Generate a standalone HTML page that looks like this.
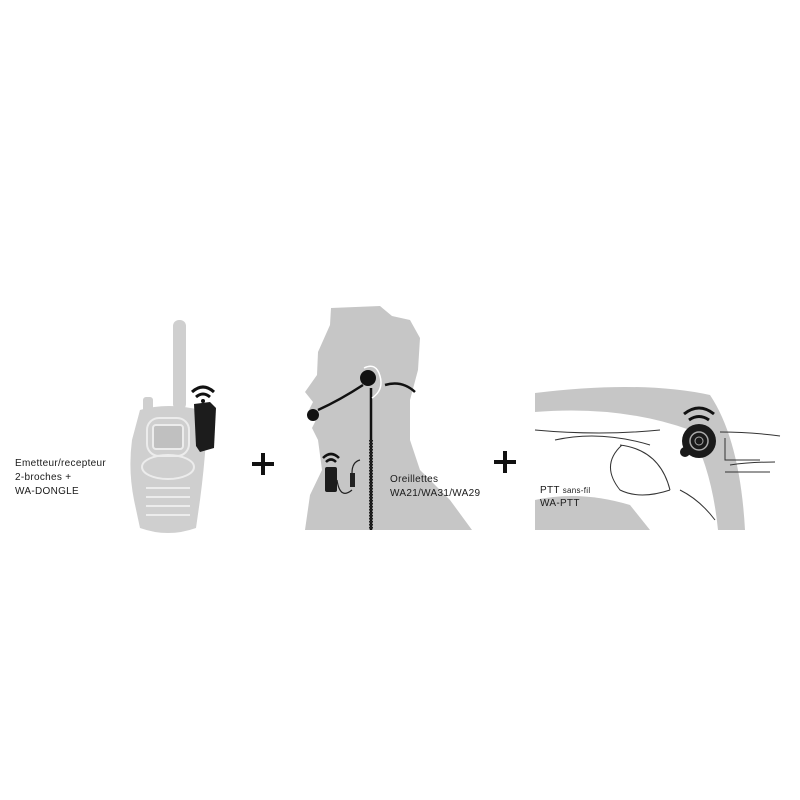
<!DOCTYPE html>
<html><head><meta charset="utf-8"><style>
html,body{margin:0;padding:0;background:#fff}
svg{display:block}
text{font-family:"Liberation Sans",sans-serif;fill:#1a1a1a;letter-spacing:0.3px}
</style></head><body>
<svg width="800" height="800" viewBox="0 0 800 800" xmlns="http://www.w3.org/2000/svg">
<rect width="800" height="800" fill="#fff"/>
<!-- walkie -->
<g fill="#cfcfcf">
<rect x="173" y="320" width="13" height="90" rx="6"/>
<rect x="143" y="397" width="10" height="15" rx="3"/>
<path d="M140 410 Q168 402 200 410 L206 440 Q204 470 200 500 L196 528 Q168 538 140 528 L134 500 Q128 470 132 440 Z"/>
</g>
<g fill="none" stroke="#ececec" stroke-width="2">
<rect x="147" y="418" width="42" height="38" rx="12"/>
<rect x="153" y="425" width="30" height="24" rx="3" fill="#c0c0c0"/>
<ellipse cx="168" cy="467" rx="26" ry="12"/>
<path d="M146 488h44M146 497h44M146 506h44M146 515h44"/>
</g>
<path d="M194 404 L210 402 L216 408 L214 448 L200 452 L196 446 Z" fill="#1c1c1c"/>
<g fill="none" stroke="#111" stroke-width="3">
<path d="M192 392 Q203 382 214 392"/><path d="M196 397 Q203 391 210 397"/>
</g>
<circle cx="203" cy="401" r="2" fill="#111"/>
<text x="15" y="466" font-size="10">Emetteur/recepteur</text>
<text x="15" y="480" font-size="10">2-broches +</text>
<text x="15" y="494" font-size="10">WA-DONGLE</text>
<!-- plus -->
<path d="M252 464h22M263 453v22M494 462h22M505 451v22" stroke="#111" stroke-width="4"/>
<!-- head -->
<path fill="#c6c6c6" d="M331 308 L380 306 L392 316 L410 320 L420 338 L418 370 L410 400 L410 440 L420 470 L450 500 L472 530 L305 530 L310 495 L322 470 L318 440 L312 428 L316 420 L308 412 L313 402 L305 392 L317 375 L318 352 L330 325 Z"/>
<g fill="none" stroke="#111" stroke-width="2.5">
<path d="M363 385 Q340 400 318 410"/>
<path d="M385 385 Q402 380 415 392"/>
<path d="M371 388 V530"/>
</g>
<circle cx="368" cy="378" r="8" fill="#111"/>
<circle cx="313" cy="415" r="6" fill="#111"/>
<path d="M364 368 q12 -6 16 8 q4 14 -8 22" fill="none" stroke="#fff" stroke-width="1.5"/>
<path d="M371 440 V530" stroke="#222" stroke-width="4" stroke-dasharray="1.5 1.5"/>
<rect x="325" y="467" width="12" height="25" rx="2" fill="#1c1c1c"/>
<rect x="350" y="473" width="5" height="14" fill="#222"/>
<path d="M337 480 Q340 500 352 490 M352 473 Q352 462 360 460" fill="none" stroke="#222" stroke-width="1.2"/>
<g fill="none" stroke="#111" stroke-width="2.5">
<path d="M323 458 Q331 450 339 458"/><path d="M326 462 Q331 457 336 462"/>
</g>
<text x="390" y="482" font-size="10">Oreillettes</text>
<text x="390" y="496" font-size="10">WA21/WA31/WA29</text>
<!-- car -->
<g fill="#c6c6c6">
<path d="M535 393 Q640 380 710 395 Q740 440 745 530 L718 530 Q712 470 690 430 Q620 405 535 412 Z"/>
<path d="M535 500 Q580 490 630 505 L650 530 L535 530 Z"/>
</g>
<g fill="none" stroke="#333" stroke-width="1">
<path d="M535 430 Q600 436 660 430 M720 432 Q750 432 780 436"/>
<path d="M555 440 Q600 430 650 445"/>
<path d="M620 445 Q660 450 670 490 M622 445 Q600 465 620 490 Q640 500 670 490"/>
<path d="M680 490 Q700 500 715 520"/>
<path d="M725 438 V460 H760 M730 465 Q750 462 775 462 M725 472 H770"/>
</g>
<circle cx="699" cy="441" r="17" fill="#1a1a1a"/>
<circle cx="699" cy="441" r="9" fill="none" stroke="#aaa" stroke-width="1.5"/>
<circle cx="699" cy="441" r="4" fill="none" stroke="#aaa" stroke-width="1"/>
<circle cx="685" cy="452" r="5" fill="#1a1a1a"/>
<g fill="none" stroke="#111" stroke-width="3">
<path d="M684 414 Q699 402 714 414"/><path d="M689 420 Q699 413 709 420"/>
</g>
<text x="540" y="493" font-size="10">PTT <tspan font-size="8">sans-fil</tspan></text>
<text x="540" y="506" font-size="10">WA-PTT</text>
</svg>
</body></html>
